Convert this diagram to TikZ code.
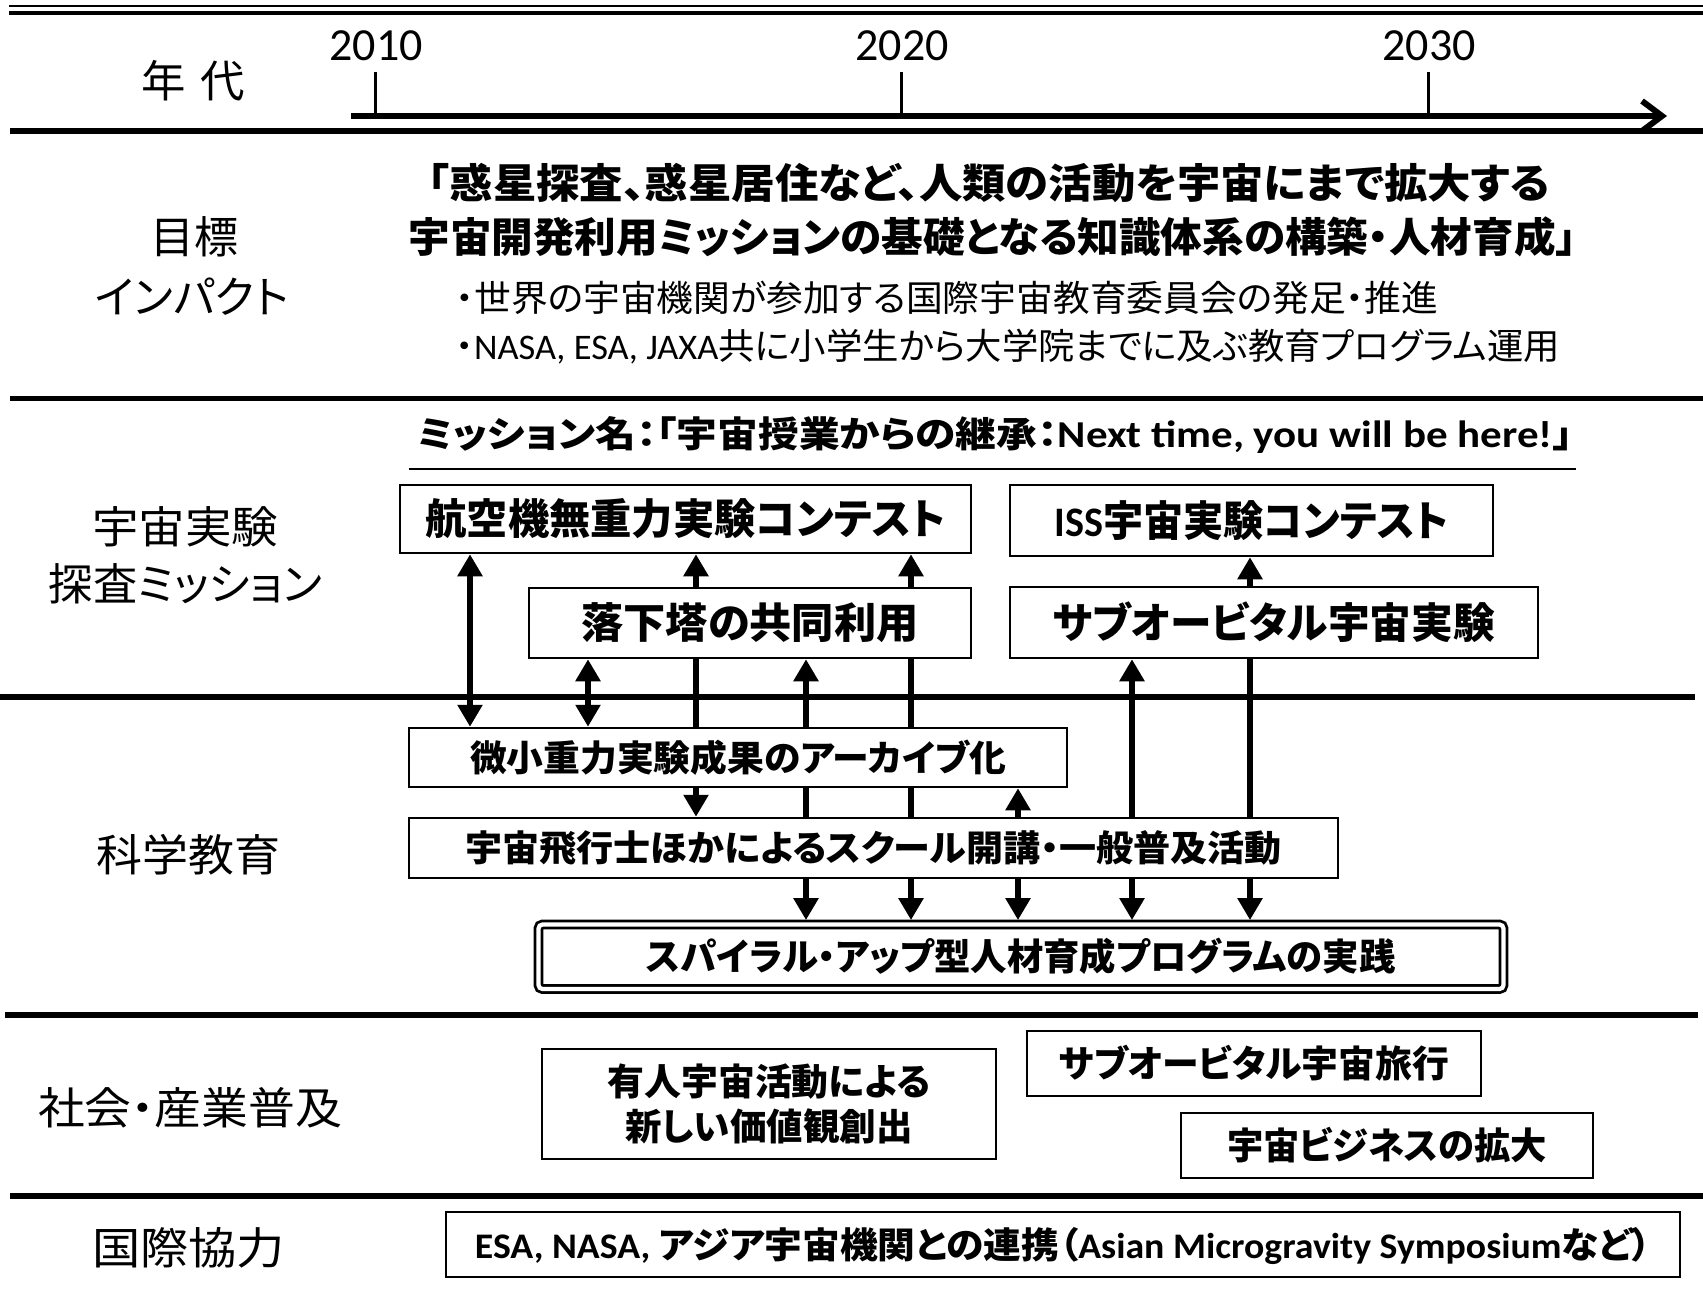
\documentclass[tikz,border=0pt]{standalone}
\usepackage{graphicx}
\usepackage{fontspec}
\setmainfont{Noto Sans CJK JP}[RawFeature={+palt}]
\newfontfamily\lat{Carlito}
\usetikzlibrary{arrows.meta}
\newcommand\fw[2]{\resizebox{#1pt}{\height}{#2}}
\begin{document}
\begin{tikzpicture}[x=1pt,y=-1pt,
  tf/.style={text height=0.88*#1pt, text depth=0.12*#1pt},
  box/.style={draw, line width=2.5pt, inner sep=0pt, fill=white, align=center},
  txt/.style={inner sep=0pt},
  lbl/.style={txt, tf=44, font=\fontsize{44}{50}\selectfont},
  year/.style={inner sep=0pt, text height=0.63*46pt, text depth=0pt, font=\lat\fontsize{46}{50}\selectfont},
  arr/.style={line width=5.5pt, -{Triangle[length=22pt,width=24pt]}},
  dbl/.style={line width=5.5pt, {Triangle[length=22pt,width=24pt]}-{Triangle[length=22pt,width=24pt]}},
  seg/.style={line width=5.5pt},
]
\useasboundingbox (0,0) rectangle (1703,1292);

% horizontal rules
\draw[line width=2.4pt] (9,6.3) -- (1703,6.3);
\draw[line width=4pt] (9,13.3) -- (1703,13.3);
\draw[line width=6pt] (10,131.5) -- (1703,131.5);
\draw[line width=5pt] (10,398) -- (1703,398);
\draw[line width=6pt] (0,697) -- (1695,697);
\draw[line width=6pt] (5,1015) -- (1698,1015);
\draw[line width=6pt] (10,1196) -- (1703,1196);

% timeline
\coordinate (tlS) at (351,116);
\coordinate (tlE) at (1667,116);
\draw[line width=6pt, -{Straight Barb[length=20pt,width=30pt]}] (tlS) -- (tlE);
\foreach \n/\x in {2010/375, 2020/901, 2030/1428} {
  \coordinate (tick\n) at (\x,116);
  \draw[line width=3pt] (tick\n) -- ++(0,-44);
  \node[year] (yr\n) at (\x+1,46) {\n};
}

% left labels
\node[lbl] (nendai) at (193,81) {\fw{103}{年\hspace{14pt}代}};
\node[lbl] (mokuhyo) at (194,237) {\fw{88}{目標}};
\node[lbl] (impact) at (192,297) {\fw{193}{インパクト}};
\node[lbl] (uchujikken) at (185,527) {\fw{186}{宇宙実験}};
\node[lbl] (tansa) at (185.5,584) {\fw{273}{探査ミッション}};
\node[lbl] (kagaku) at (188,855) {\fw{184}{科学教育}};
\node[lbl] (shakai) at (190,1108) {\fw{304}{社会・産業普及}};
\node[lbl] (kokusai) at (188.5,1248) {\fw{193}{国際協力}};

% goal
\node[txt, tf=41, font=\bfseries\fontsize{41}{48}\selectfont] (goal1) at (989,183)
  {\fw{1122}{「惑星探査、惑星居住など、人類の活動を宇宙にまで拡大する}};
\node[txt, tf=41, font=\bfseries\fontsize{41}{48}\selectfont] (goal2) at (992.5,237)
  {\fw{1168}{宇宙開発利用ミッションの基礎となる知識体系の構築・人材育成」}};
\node[txt, tf=36, font=\fontsize{36}{42}\selectfont] (bul1) at (947,298)
  {\fw{982}{・世界の宇宙機関が参加する国際宇宙教育委員会の発足・推進}};
\node[txt, tf=36, font=\fontsize{36}{42}\selectfont] (bul2) at (1008,346)
  {\fw{1104}{・{\lat NASA, ESA, JAXA}共に小学生から大学院までに及ぶ教育プログラム運用}};

% mission name
\node[txt, tf=36, font=\bfseries\fontsize{36}{42}\selectfont] (mission) at (995,434)
  {\fw{1156}{ミッション名：「宇宙授業からの継承：{\lat\fontsize{38}{44}\selectfont Next time, you will be here!}」}};
\coordinate (ulS) at (409,469);
\coordinate (ulE) at (1576,469);
\draw[line width=2.5pt] (ulS) -- (ulE);

% boxes
\node[box, tf=42, minimum width=571pt, minimum height=68pt, font=\bfseries\fontsize{42}{48}\selectfont] (b1) at (685.5,519)
  {\fw{520}{航空機無重力実験コンテスト}};
\node[box, tf=42, minimum width=483pt, minimum height=71pt, font=\bfseries\fontsize{42}{48}\selectfont] (b2) at (1251.5,520.5)
  {\fw{394}{{\lat ISS}宇宙実験コンテスト}};
\node[box, tf=42, minimum width=442pt, minimum height=70pt, font=\bfseries\fontsize{42}{48}\selectfont] (b3) at (750,623)
  {\fw{337}{落下塔の共同利用}};
\node[box, tf=42, minimum width=528pt, minimum height=71pt, font=\bfseries\fontsize{42}{48}\selectfont] (b4) at (1274,622.5)
  {\fw{442}{サブオービタル宇宙実験}};
\node[box, tf=36, minimum width=658pt, minimum height=59pt, font=\bfseries\fontsize{36}{42}\selectfont] (b5) at (738,757.5)
  {\fw{536}{微小重力実験成果のアーカイブ化}};
\node[box, tf=36, minimum width=929pt, minimum height=60pt, font=\bfseries\fontsize{36}{42}\selectfont] (b6) at (873.5,848)
  {\fw{816}{宇宙飛行士ほかによるスクール開講・一般普及活動}};
\node[box, tf=37, double, line width=2.8pt, double distance=4.2pt, rounded corners=4pt,
  minimum width=965pt, minimum height=64.5pt, font=\bfseries\fontsize{37}{42}\selectfont] (b7) at (1021,956.75)
  {\fw{749}{スパイラル・アップ型人材育成プログラムの実践}};
\node[box, minimum width=454pt, minimum height=110pt, font=\bfseries\fontsize{37}{45}\selectfont] (b8) at (769,1104)
  {\fw{323}{有人宇宙活動による}\\\fw{287}{新しい価値観創出}};
\node[box, tf=37, minimum width=454pt, minimum height=65pt, font=\bfseries\fontsize{37}{42}\selectfont] (b9) at (1254,1063.5)
  {\fw{390}{サブオービタル宇宙旅行}};
\node[box, tf=37, minimum width=412pt, minimum height=65pt, font=\bfseries\fontsize{37}{42}\selectfont] (b10) at (1387,1145.5)
  {\fw{320}{宇宙ビジネスの拡大}};
\node[box, tf=36, minimum width=1234pt, minimum height=65pt, font=\bfseries\fontsize{36}{42}\selectfont] (b11) at (1063,1244.5)
  {\fw{1176}{{\lat ESA, NASA, }アジア宇宙機関との連携（{\lat Asian Microgravity Symposium}など）}};

% arrow columns
\coordinate (cA) at (470,0);
\coordinate (cB) at (588,0);
\coordinate (cC) at (696,0);
\coordinate (cD) at (806,0);
\coordinate (cE) at (911,0);
\coordinate (cF) at (1018,0);
\coordinate (cG) at (1132,0);
\coordinate (cH) at (1250,0);

\draw[dbl] (cA |- b1.south) -- (cA |- b5.north);
\draw[dbl] (cB |- b3.south) -- (cB |- b5.north);

\draw[arr] (cC |- b3.north) -- (cC |- b1.south);
\draw[seg] (cC |- b3.south) -- (cC |- b5.north);
\draw[arr] (cC |- b5.south) -- (cC |- b6.north);

\draw[arr] (cD |- b5.north) -- (cD |- b3.south);
\draw[seg] (cD |- b5.south) -- (cD |- b6.north);
\draw[arr, shorten >=3pt] (cD |- b6.south) -- (cD |- b7.north);

\draw[arr] (cE |- b3.north) -- (cE |- b1.south);
\draw[seg] (cE |- b3.south) -- (cE |- b5.north);
\draw[seg] (cE |- b5.south) -- (cE |- b6.north);
\draw[arr, shorten >=3pt] (cE |- b6.south) -- (cE |- b7.north);

\draw[arr] (cF |- b6.north) -- (cF |- b5.south);
\draw[arr, shorten >=3pt] (cF |- b6.south) -- (cF |- b7.north);

\draw[arr] (cG |- b6.north) -- (cG |- b4.south);
\draw[arr, shorten >=3pt] (cG |- b6.south) -- (cG |- b7.north);

\draw[arr] (cH |- b4.north) -- (cH |- b2.south);
\draw[seg] (cH |- b4.south) -- (cH |- b6.north);
\draw[arr, shorten >=3pt] (cH |- b6.south) -- (cH |- b7.north);
\end{tikzpicture}
\end{document}
